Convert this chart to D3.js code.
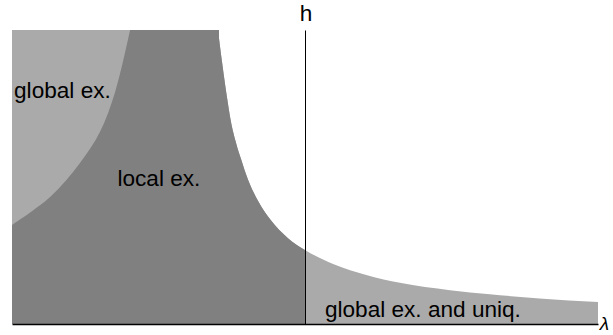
<!DOCTYPE html>
<html>
<head>
<meta charset="utf-8">
<script src="https://cdn.jsdelivr.net/npm/d3@7"></script>
<style>
  html, body { margin: 0; padding: 0; background: #fff; }
  svg text { font-family: "Liberation Sans", Arial, Helvetica, sans-serif; fill: #000; }
</style>
</head>
<body>
<svg id="chart" width="613" height="335"></svg>
<script>
// Boundary of the existence region (upper curve): lambda and h
const lambdaUpper = [-0.297, -0.283, -0.263, -0.253, -0.235, -0.218, -0.195, -0.160, -0.119, -0.058, 0, 0.096, 0.212, 0.324, 0.495, 0.631, 0.80, 1.0];
const hUpper      = [ 1.000,  0.890,  0.750,  0.690,  0.615,  0.560,  0.492,  0.418,  0.356,  0.292, 0.252, 0.204, 0.166, 0.140, 0.115, 0.101, 0.087, 0.075];

// Boundary of the global existence region on the left
const lambdaGlobal = [-0.597, -0.648, -0.700, -0.768, -0.870, -1.0];
const hGlobal      = [ 1.000,  0.789,  0.653,  0.548,  0.432,  0.337];

// Region labels
const regionLabels = ["global ex.", "local ex.", "global ex. and uniq."];
const regionLabelPos = [[-0.993, 0.77], [-0.64, 0.47], [0.068, 0.024]];
const axisLabels = ["h", "\u03bb"];

const W = 613, H = 335;
const margin = { left: 12, right: 15, top: 30, bottom: 11 };
const svg = d3.select("#chart");

const x = d3.scaleLinear().domain([-1, 1]).range([margin.left, W - margin.right]);
const y = d3.scaleLinear().domain([0, 1]).range([H - margin.bottom, margin.top]);

const LIGHT = "#aaaaaa", DARK = "#808080";
const FONT = 22.6;

const defs = svg.append("defs");
defs.append("clipPath").attr("id", "plot")
  .append("rect")
  .attr("x", x(-1)).attr("y", y(1))
  .attr("width", x(1) - x(-1)).attr("height", y(0) - y(1));

defs.append("clipPath").attr("id", "negLambda")
  .append("rect")
  .attr("x", x(-1)).attr("y", y(1))
  .attr("width", x(0) - x(-1)).attr("height", y(0) - y(1));

const upper = lambdaUpper.map((l, i) => ({ l, h: hUpper[i] }));
const globalB = lambdaGlobal.map((l, i) => ({ l, h: hGlobal[i] }));

const g = svg.append("g").attr("clip-path", "url(#plot)");

// area below the upper boundary (light for lambda > 0)
const underCurve = d3.area()
  .x(d => x(d.l))
  .y0(y(0))
  .y1(d => y(d.h))
  .curve(d3.curveMonotoneX);

g.append("path").datum(upper)
  .attr("d", underCurve)
  .attr("fill", LIGHT);

// local existence: everything left of the h-axis below the boundary
const gNeg = g.append("g").attr("clip-path", "url(#negLambda)");
gNeg.append("rect")
  .attr("x", x(-1)).attr("y", y(1))
  .attr("width", x(lambdaUpper[0]) - x(-1) + 1)
  .attr("height", y(0) - y(1))
  .attr("fill", DARK);
gNeg.append("path").datum(upper)
  .attr("d", underCurve)
  .attr("fill", DARK);

// global existence on the left
const leftArea = d3.area()
  .y(d => y(d.h))
  .x0(x(-1))
  .x1(d => x(d.l))
  .curve(d3.curveCatmullRom.alpha(0.5));

g.append("path").datum(globalB)
  .attr("d", leftArea)
  .attr("fill", LIGHT);

// axes
const xAxis = d3.axisBottom(x).tickValues([]).tickSizeOuter(0);
svg.append("g")
  .attr("transform", `translate(0,${y(0)})`)
  .call(xAxis)
  .call(s => s.select(".domain").attr("stroke", "#000").attr("stroke-width", 1.6));

const yAxis = d3.axisLeft(y).tickValues([]).tickSizeOuter(0);
svg.append("g")
  .attr("transform", `translate(${x(0)},0)`)
  .call(yAxis)
  .call(s => s.select(".domain").attr("stroke", "#000").attr("stroke-width", 1));

// labels
svg.selectAll("text.region")
  .data(regionLabels)
  .join("text")
  .attr("class", "region")
  .attr("x", (d, i) => x(regionLabelPos[i][0]))
  .attr("y", (d, i) => y(regionLabelPos[i][1]))
  .attr("font-size", FONT)
  .text(d => d);

svg.append("text")
  .attr("x", x(0) + 1)
  .attr("y", 21)
  .attr("text-anchor", "middle")
  .attr("font-size", FONT)
  .text(axisLabels[0]);

svg.append("text")
  .attr("x", W - 4)
  .attr("y", 330)
  .attr("text-anchor", "end")
  .attr("font-size", 19)
  .attr("font-style", "italic")
  .text(axisLabels[1]);
</script>
</body>
</html>
